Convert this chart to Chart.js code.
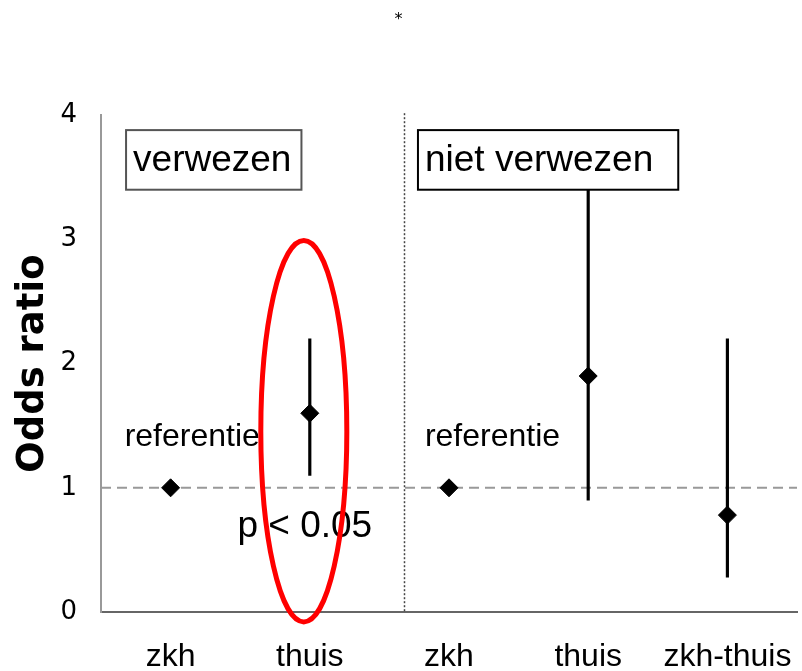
<!DOCTYPE html>
<html>
<head>
<meta charset="utf-8">
<script src="https://cdn.jsdelivr.net/npm/chart.js@4/dist/chart.umd.min.js"></script>
<style>
  body { margin: 0; background: #fff; }
  #wrap { width: 802px; height: 671px; }
</style>
</head>
<body>
<div id="wrap"><canvas id="myChart"></canvas></div>
<script>
// categories on the x axis
const categories = ['zkh', 'thuis', 'zkh', 'thuis', 'zkh-thuis'];
// odds ratio per group, with 95% interval (null = reference, no interval)
const oddsRatio = [1.0, 1.6, 1.0, 1.9, 0.78];
const ciLow = [null, 1.1, null, 0.9, 0.28];
const ciHigh = [null, 2.2, null, 3.5, 2.2];
const yTicks = [0, 1, 2, 3, 4];
const refValue = 1;

// errorbars as thin floating bars
const ciBars = ciLow.map((lo, i) => lo === null ? null : [lo, ciHigh[i]]);

// dashed reference line, dotted divider, boxes, labels and the red ring
const extras = {
  id: 'extras',
  beforeDatasetsDraw(chart) {
    const { ctx, chartArea, scales: { x, y } } = chart;
    ctx.save();
    // dashed line at OR = 1
    ctx.strokeStyle = '#999';
    ctx.lineWidth = 2;
    ctx.setLineDash([10, 6]);
    ctx.beginPath();
    ctx.moveTo(chartArea.left, y.getPixelForValue(refValue));
    ctx.lineTo(chartArea.right, y.getPixelForValue(refValue));
    ctx.stroke();
    // dotted divider between the two panels
    const dx = Math.round(x.getPixelForValue(1.68)) + 0.5;
    ctx.strokeStyle = '#444';
    ctx.lineWidth = 1.5;
    ctx.setLineDash([2, 2]);
    ctx.beginPath();
    ctx.moveTo(dx, chartArea.top - 2);
    ctx.lineTo(dx, chartArea.bottom);
    ctx.stroke();
    ctx.restore();
  },
  afterDatasetsDraw(chart) {
    const { ctx, scales: { x, y } } = chart;
    ctx.save();
    ctx.fillStyle = '#000';
    ctx.textBaseline = 'middle';
    ctx.textAlign = 'left';

    // panel boxes
    const boxes = [
      { text: 'verwezen', x1: -0.32, x2: 0.94, y1: 3.88, y2: 3.40, color: '#555' },
      { text: 'niet verwezen', x1: 1.777, x2: 3.647, y1: 3.88, y2: 3.40, color: '#000' }
    ];
    ctx.font = '37px "Liberation Sans", Arial, sans-serif';
    boxes.forEach(b => {
      const l = x.getPixelForValue(b.x1), r = x.getPixelForValue(b.x2);
      const t = y.getPixelForValue(b.y1), btm = y.getPixelForValue(b.y2);
      ctx.fillStyle = '#fff';
      ctx.fillRect(l, t, r - l, btm - t);
      ctx.strokeStyle = b.color;
      ctx.lineWidth = 2;
      ctx.strokeRect(l, t, r - l, btm - t);
      ctx.fillStyle = '#000';
      ctx.fillText(b.text, l + 7, (t + btm) / 2 + 1);
    });

    // reference labels
    ctx.font = '32px "Liberation Sans", Arial, sans-serif';
    ctx.fillText('referentie', x.getPixelForValue(-0.33), y.getPixelForValue(1.41));
    ctx.fillText('referentie', x.getPixelForValue(1.827), y.getPixelForValue(1.41));

    // p value
    ctx.font = '37px "Liberation Sans", Arial, sans-serif';
    ctx.fillText('p < 0.05', x.getPixelForValue(0.48), y.getPixelForValue(0.685));

    // red ring round the significant result
    const cx = x.getPixelForValue(0.957), cy = y.getPixelForValue(1.456);
    const rx = x.getPixelForValue(1.266) - cx, ry = cy - y.getPixelForValue(2.992);
    ctx.strokeStyle = '#ff0000';
    ctx.lineWidth = 5;
    ctx.beginPath();
    ctx.ellipse(cx, cy, rx, ry, 0, 0, Math.PI * 2);
    ctx.stroke();
    ctx.restore();
  }
};

new Chart(document.getElementById('myChart'), {
  type: 'bar',
  data: {
    labels: categories,
    datasets: [
      {
        type: 'line',
        data: oddsRatio,
        showLine: false,
        pointStyle: 'rectRot',
        pointRadius: 9,
        pointBackgroundColor: '#000',
        pointBorderColor: '#000',
        order: 0
      },
      {
        type: 'bar',
        data: ciBars,
        backgroundColor: '#000',
        barThickness: 2.5,
        borderSkipped: false,
        order: 1
      }
    ]
  },
  options: {
    responsive: true,
    maintainAspectRatio: false,
    animation: false,
    layout: { autoPadding: false, padding: { right: 5 } },
    plugins: {
      legend: { display: false },
      tooltip: { enabled: false },
      title: {
        display: true,
        text: '*',
        color: '#000',
        font: { family: 'DejaVu Sans', size: 16, weight: 'normal' },
        padding: { top: 10, bottom: 86 }
      }
    },
    scales: {
      x: {
        grid: { display: false, drawTicks: false },
        border: { display: true, color: '#666', width: 2 },
        ticks: {
          color: '#000',
          padding: 26,
          font: { family: '"Liberation Sans", Arial, sans-serif', size: 32 }
        },
        afterFit(scale) {
          scale.height = 59;
          scale.paddingLeft = 0;
          scale.paddingRight = 0;
        }
      },
      y: {
        min: 0,
        max: 4,
        afterBuildTicks(scale) { scale.ticks = yTicks.map(v => ({ value: v })); },
        grid: { display: false, drawTicks: false },
        border: { display: true, color: '#999', width: 2 },
        ticks: {
          color: '#000',
          padding: 24,
          font: { family: 'DejaVu Sans', size: 26 }
        },
        title: {
          display: true,
          text: 'Odds ratio',
          color: '#000',
          padding: { top: 11, bottom: 0 },
          font: { family: 'DejaVu Sans', size: 37, weight: 'bold' }
        },
        afterFit(scale) { scale.width = 101; }
      }
    }
  },
  plugins: [extras]
});
</script>
</body>
</html>
